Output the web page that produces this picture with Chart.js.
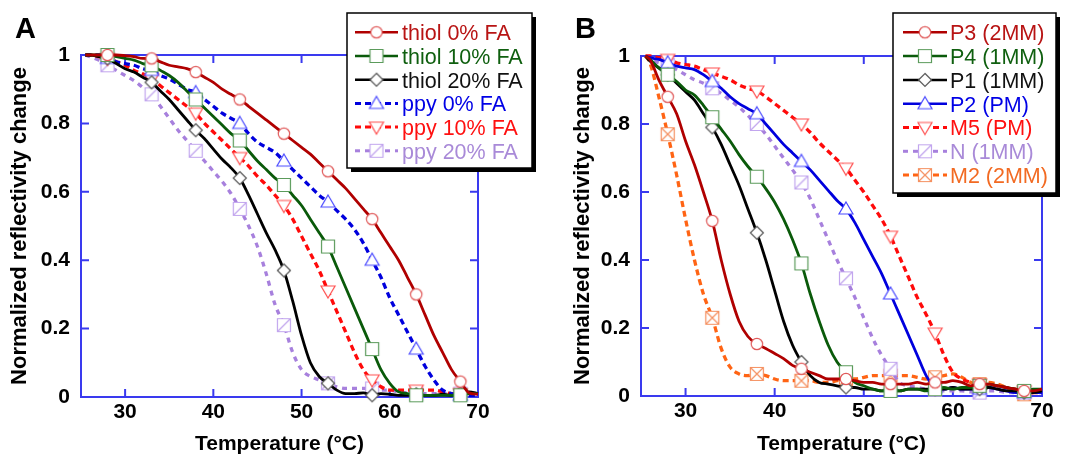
<!DOCTYPE html>
<html>
<head>
<meta charset="utf-8">
<script src="https://cdn.jsdelivr.net/npm/chart.js@4.4.0/dist/chart.umd.min.js"></script>
<style>
  body { margin: 0; background: #fff; }
  #wrap { position: relative; width: 1066px; height: 457px; }
  #chartA { position: absolute; left: 0; top: 0; }
  #chartB { position: absolute; left: 540px; top: 0; }
</style>
</head>
<body>
<div id="wrap">
  <canvas id="chartA" width="540" height="457"></canvas>
  <canvas id="chartB" width="526" height="457"></canvas>
</div>
<script>
// temperature samples (°C), markers every 5 degrees
const temps = [25.5, 26, 27, 28, 29, 30, 31, 32, 33, 34, 35, 36, 37, 38, 39, 40, 41, 42, 43, 44, 45, 46, 47,
  48, 49, 50, 51, 52, 53, 54, 55, 56, 57, 58, 59, 60, 61, 62, 63, 64, 65, 66, 67, 68, 69, 70];
const markerTemps = [28, 33, 38, 43, 48, 53, 58, 63, 68];

const xTicks = [30, 40, 50, 60, 70];
const yTicks = [0, 0.2, 0.4, 0.6, 0.8, 1];
const yTickLabels = ['0', '0.2', '0.4', '0.6', '0.8', '1'];

// panel A
const thiol0 = [1, 1, 1, 1, 1,  0.998, 0.995, 0.99, 0.99, 0.98,  0.97, 0.965, 0.96, 0.95, 0.935,
  0.92, 0.9, 0.885, 0.87, 0.85,  0.83, 0.81, 0.79, 0.77, 0.75,  0.73, 0.71, 0.685, 0.66, 0.635,
  0.61, 0.58, 0.55, 0.52, 0.48,  0.44, 0.4, 0.35, 0.3, 0.24,  0.18, 0.13, 0.08, 0.045, 0.012,  0.008];
const thiol10 = [1, 1, 1, 1, 0.995,  0.99, 0.985, 0.975, 0.97, 0.955,  0.94, 0.92, 0.895, 0.87, 0.845,
  0.82, 0.795, 0.77, 0.75, 0.72,  0.69, 0.665, 0.64, 0.62, 0.59,  0.56, 0.52, 0.48, 0.44, 0.38,
  0.32, 0.26, 0.2, 0.14, 0.08,  0.04, 0.015, 0.01, 0.005, 0.005,  0.005, 0.005, 0.005, 0.005, 0.01,  0.01];
const thiol20 = [1, 1, 0.995, 0.99, 0.975,  0.96, 0.95, 0.935, 0.92, 0.895,  0.87, 0.84, 0.81, 0.78, 0.755,
  0.725, 0.695, 0.67, 0.64, 0.59,  0.535, 0.48, 0.43, 0.37, 0.28,  0.18, 0.1, 0.06, 0.04, 0.02,
  0.01, 0.01, 0.012, 0.005, 0.01,  0.008, 0.005, 0.005, 0.008, 0.005,  0.005, 0.008, 0.005, 0.01, 0.015,  0.01];
const ppy0 = [1, 1, 1, 0.99, 0.98,  0.975, 0.97, 0.96, 0.955, 0.94,  0.93, 0.915, 0.9, 0.89, 0.87,
  0.85, 0.83, 0.815, 0.8, 0.77,  0.745, 0.73, 0.715, 0.69, 0.665,  0.64, 0.615, 0.59, 0.57, 0.545,
  0.52, 0.49, 0.45, 0.4, 0.35,  0.29, 0.24, 0.19, 0.14, 0.09,  0.05, 0.02, 0.01, 0.005, 0.005,  0.005];
const ppy10 = [1, 1, 0.995, 0.99, 0.98,  0.97, 0.955, 0.945, 0.93, 0.91,  0.89, 0.87, 0.85, 0.83, 0.8,
  0.775, 0.75, 0.725, 0.7, 0.675,  0.645, 0.62, 0.59, 0.56, 0.52,  0.47, 0.42, 0.37, 0.31, 0.25,
  0.19, 0.13, 0.08, 0.05, 0.03,  0.02, 0.02, 0.02, 0.02, 0.02,  0.02, 0.015, 0.01, 0.01, 0.01,  0.01];
const ppy20 = [1, 0.995, 0.985, 0.97, 0.955,  0.94, 0.925, 0.905, 0.885, 0.85,  0.815, 0.78, 0.75, 0.72, 0.69,
  0.66, 0.63, 0.595, 0.55, 0.5,  0.44, 0.36, 0.27, 0.21, 0.13,  0.08, 0.06, 0.05, 0.04, 0.03,
  0.025, 0.025, 0.025, 0.025, 0.02,  0.02, 0.015, 0.012, 0.01, 0.01,  0.01, 0.01, 0.01, 0.01, 0.012,  0.01];

// panel B
const p3 = [1, 0.99, 0.93, 0.88, 0.83,  0.75, 0.68, 0.6, 0.515, 0.4,  0.3, 0.22, 0.175, 0.153, 0.14,
  0.125, 0.11, 0.09, 0.08, 0.07,  0.06, 0.05, 0.05, 0.05, 0.045,  0.04, 0.04, 0.035, 0.035, 0.035,
  0.035, 0.04, 0.035, 0.04, 0.04,  0.045, 0.04, 0.03, 0.035, 0.035,  0.03, 0.025, 0.02, 0.015, 0.015,  0.02];
const p4 = [1, 0.99, 0.965, 0.945, 0.925,  0.9, 0.885, 0.855, 0.82, 0.785,  0.75, 0.71, 0.675, 0.645, 0.61,
  0.57, 0.52, 0.46, 0.39, 0.3,  0.22, 0.15, 0.1, 0.07, 0.04,  0.03, 0.02, 0.015, 0.015, 0.015,
  0.02, 0.02, 0.015, 0.02, 0.025,  0.02, 0.025, 0.025, 0.03, 0.035,  0.03, 0.025, 0.02, 0.015, 0.02,  0.02];
const p1 = [1, 0.985, 0.965, 0.945, 0.92,  0.895, 0.87, 0.83, 0.79, 0.74,  0.68, 0.62, 0.55, 0.48, 0.4,
  0.31, 0.22, 0.15, 0.1, 0.06,  0.04, 0.035, 0.03, 0.025, 0.025,  0.02, 0.02, 0.015, 0.02, 0.015,
  0.02, 0.02, 0.02, 0.02, 0.02,  0.025, 0.02, 0.02, 0.02, 0.025,  0.02, 0.015, 0.015, 0.01, 0.01,  0.015];
const p2 = [1, 0.995, 0.99, 0.98, 0.97,  0.965, 0.96, 0.945, 0.925, 0.905,  0.88, 0.86, 0.845, 0.83, 0.8,
  0.77, 0.74, 0.715, 0.69, 0.665,  0.635, 0.605, 0.575, 0.55, 0.51,  0.46, 0.41, 0.36, 0.3, 0.24,
  0.18, 0.12, 0.06, 0.025, 0.02,  0.025, 0.02, 0.02, 0.02, 0.025,  0.02, 0.015, 0.01, 0.01, 0.01,  0.01];
const m5 = [1, 1, 0.995, 0.99, 0.98,  0.975, 0.97, 0.96, 0.95, 0.94,  0.93, 0.915, 0.905, 0.897, 0.88,
  0.86, 0.84, 0.82, 0.8, 0.775,  0.745, 0.72, 0.695, 0.67, 0.635,  0.6, 0.56, 0.52, 0.47, 0.41,
  0.35, 0.29, 0.24, 0.185, 0.12,  0.07, 0.05, 0.04, 0.035, 0.03,  0.03, 0.025, 0.02, 0.015, 0.01,  0.01];
const nn = [1, 0.99, 0.98, 0.975, 0.96,  0.945, 0.93, 0.92, 0.905, 0.89,  0.87, 0.85, 0.825, 0.8, 0.77,
  0.735, 0.7, 0.665, 0.628, 0.58,  0.52, 0.46, 0.4, 0.346, 0.29,  0.23, 0.17, 0.12, 0.08, 0.04,
  0.03, 0.025, 0.02, 0.018, 0.015,  0.015, 0.015, 0.012, 0.01, 0.015,  0.015, 0.01, 0.01, 0.01, 0.01,  0.01];
const m2 = [1, 0.98, 0.88, 0.77, 0.65,  0.52, 0.4, 0.3, 0.23, 0.14,  0.085, 0.065, 0.06, 0.065, 0.06,
  0.05, 0.045, 0.045, 0.045, 0.045,  0.04, 0.04, 0.045, 0.05, 0.05,  0.055, 0.06, 0.06, 0.06, 0.06,
  0.06, 0.055, 0.05, 0.055, 0.06,  0.065, 0.055, 0.04, 0.035, 0.04,  0.035, 0.025, 0.015, 0.005, 0.01,  0.02];

const FONT = 'Arial, "Liberation Sans", Helvetica, sans-serif';
const frameColor = '#3a3aef';

// small canvases used as point markers
function marker(kind, color) {
  const c = document.createElement('canvas');
  c.width = 18; c.height = 18;
  const g = c.getContext('2d');
  g.translate(9, 9);
  g.lineWidth = 1.2;
  g.strokeStyle = color;
  g.fillStyle = '#fff';
  g.beginPath();
  if (kind === 'circle') g.arc(0, 0, 5.7, 0, Math.PI * 2);
  else if (kind === 'diamond') { g.moveTo(0, -6.5); g.lineTo(6.5, 0); g.lineTo(0, 6.5); g.lineTo(-6.5, 0); g.closePath(); }
  else if (kind === 'triUp') { g.moveTo(0, -7); g.lineTo(7, 5); g.lineTo(-7, 5); g.closePath(); }
  else if (kind === 'triDown') { g.moveTo(0, 7); g.lineTo(7, -5); g.lineTo(-7, -5); g.closePath(); }
  else g.rect(-6.5, -6.5, 13, 13);
  g.fill();
  g.stroke();
  if (kind === 'slash' || kind === 'cross') {
    g.beginPath();
    g.moveTo(-6.5, 6.5); g.lineTo(6.5, -6.5);
    if (kind === 'cross') { g.moveTo(-6.5, -6.5); g.lineTo(6.5, 6.5); }
    g.stroke();
  }
  return c;
}

const seriesA = [
  { label: 'thiol 0% FA', data: thiol0, color: '#b00000', text: '#b81414', img: marker('circle', '#e05a5a'), dash: [] },
  { label: 'thiol 10% FA', data: thiol10, color: '#0a5a0a', text: '#0f5f0f', img: marker('square', '#5b9b5b'), dash: [] },
  { label: 'thiol 20% FA', data: thiol20, color: '#000000', text: '#111111', img: marker('diamond', '#555555'), dash: [] },
  { label: 'ppy 0% FA', data: ppy0, color: '#0000dd', text: '#0000e6', img: marker('triUp', '#4a4aff'), dash: [6, 4] },
  { label: 'ppy 10% FA', data: ppy10, color: '#ff0a0a', text: '#ff1010', img: marker('triDown', '#ff5050'), dash: [6, 4] },
  { label: 'ppy 20% FA', data: ppy20, color: '#a780dd', text: '#a98ad8', img: marker('slash', '#c2a6ee'), dash: [5, 5] }
];

const seriesB = [
  { label: 'P3 (2MM)', data: p3, color: '#b00000', text: '#b81414', img: marker('circle', '#e05a5a'), dash: [] },
  { label: 'P4 (1MM)', data: p4, color: '#0a5a0a', text: '#0f5f0f', img: marker('square', '#5b9b5b'), dash: [] },
  { label: 'P1 (1MM)', data: p1, color: '#000000', text: '#111111', img: marker('diamond', '#555555'), dash: [] },
  { label: 'P2 (PM)', data: p2, color: '#0000dd', text: '#0000e6', img: marker('triUp', '#4a4aff'), dash: [] },
  { label: 'M5 (PM)', data: m5, color: '#ff0a0a', text: '#ff1010', img: marker('triDown', '#ff5050'), dash: [6, 4] },
  { label: 'N (1MM)', data: nn, color: '#a780dd', text: '#a98ad8', img: marker('slash', '#c2a6ee'), dash: [5, 5] },
  { label: 'M2 (2MM)', data: m2, color: '#ff6414', text: '#f26a22', img: marker('cross', '#f59060'), dash: [6, 4] }
];

function makeDatasets(series) {
  return series.map(s => ({
    label: s.label,
    data: temps.map((t, i) => ({ x: t, y: s.data[i] })),
    borderColor: s.color,
    backgroundColor: '#fff',
    borderWidth: s.dash.length ? 3.3 : 2.8,
    borderDash: s.dash,
    pointStyle: s.img,
    pointRadius: ctx => markerTemps.includes(temps[ctx.dataIndex]) ? 6 : 0,
    cubicInterpolationMode: 'monotone',
    clip: false
  }));
}

// frame, inward ticks on all four sides, panel letter and boxed legend
function decorPlugin(cfg) {
  return {
    id: 'decor',
    beforeDatasetsDraw(chart) {
      const { ctx, chartArea: a, scales } = chart;
      ctx.save();
      ctx.strokeStyle = frameColor;
      ctx.lineWidth = 2;
      ctx.strokeRect(a.left, a.top, a.right - a.left, a.bottom - a.top);
      ctx.beginPath();
      xTicks.forEach(v => {
        const px = scales.x.getPixelForValue(v);
        ctx.moveTo(px, a.bottom); ctx.lineTo(px, a.bottom - 8);
        ctx.moveTo(px, a.top); ctx.lineTo(px, a.top + 8);
      });
      yTicks.forEach(v => {
        const py = scales.y.getPixelForValue(v);
        ctx.moveTo(a.left, py); ctx.lineTo(a.left + 8, py);
        ctx.moveTo(a.right, py); ctx.lineTo(a.right - 8, py);
      });
      ctx.stroke();
      ctx.restore();
    },
    afterDraw(chart) {
      const ctx = chart.ctx;
      const L = cfg.legend;
      ctx.save();
      ctx.fillStyle = '#000';
      ctx.font = 'bold 29px ' + FONT;
      ctx.textBaseline = 'alphabetic';
      ctx.fillText(cfg.letter, cfg.lx, cfg.ly);

      ctx.fillStyle = '#000';
      ctx.fillRect(L.x + 4, L.y + 4, L.w, L.h);
      ctx.fillStyle = '#fff';
      ctx.fillRect(L.x, L.y, L.w, L.h);
      ctx.lineWidth = 1.5;
      ctx.strokeStyle = '#000';
      ctx.strokeRect(L.x, L.y, L.w, L.h);

      ctx.font = '21.5px ' + FONT;
      cfg.series.forEach((s, i) => {
        const cy = L.row0 + i * L.step;
        ctx.beginPath();
        ctx.strokeStyle = s.color;
        ctx.lineWidth = s.dash.length ? 3 : 2.5;
        ctx.setLineDash(s.dash);
        ctx.moveTo(L.sx0, cy); ctx.lineTo(L.sx1, cy);
        ctx.stroke();
        ctx.setLineDash([]);
        const mx = (L.sx0 + L.sx1) / 2;
        ctx.drawImage(s.img, mx - 9, cy - 9);
        ctx.fillStyle = s.text;
        ctx.fillText(s.label, L.tx, cy + 7.8);
      });
      ctx.restore();
    }
  };
}

function makeChart(id, series, lay) {
  return new Chart(document.getElementById(id), {
    type: 'line',
    data: { datasets: makeDatasets(series) },
    options: {
      responsive: false,
      animation: false,
      events: [],
      layout: { padding: { left: 0, top: lay.top, right: lay.right, bottom: 0 } },
      plugins: { legend: { display: false }, tooltip: { enabled: false } },
      scales: {
        x: {
          type: 'linear', min: 25, max: 70,
          afterBuildTicks: axis => { axis.ticks = xTicks.map(v => ({ value: v })); },
          afterFit: axis => { axis.height = lay.xh; },
          grid: { display: false, drawTicks: false },
          border: { display: false },
          ticks: { padding: 3, color: '#000', font: { family: FONT, size: 21, weight: 'bold' } },
          title: { display: true, text: 'Temperature (°C)', color: '#000', padding: { top: 0, bottom: 0 },
            font: { family: FONT, size: 21, weight: 'bold' } }
        },
        y: {
          min: 0, max: 1,
          afterBuildTicks: axis => { axis.ticks = yTicks.map(v => ({ value: v })); },
          afterFit: axis => { axis.width = lay.yw; },
          grid: { display: false, drawTicks: false },
          border: { display: false },
          ticks: { padding: 11, color: '#000', font: { family: FONT, size: 21, weight: 'bold' },
            callback: (v, i) => yTickLabels[i] },
          title: { display: true, text: 'Normalized reflectivity change', color: '#000',
            padding: { top: lay.tpad, bottom: 0 }, font: { family: FONT, size: 22, weight: 'bold' } }
        }
      }
    },
    plugins: [decorPlugin(lay.decor)]
  });
}

makeChart('chartA', seriesA, {
  top: 55, right: 62, xh: 60, yw: 81, tpad: 7,
  decor: { letter: 'A', lx: 15, ly: 38, series: seriesA,
    legend: { x: 347, y: 13, w: 185, h: 155, row0: 32.3, step: 23.7, sx0: 355, sx1: 398, tx: 402 } }
});

makeChart('chartB', seriesB, {
  top: 56, right: 24, xh: 61, yw: 101, tpad: 30,
  decor: { letter: 'B', lx: 35, ly: 38, series: seriesB,
    legend: { x: 353, y: 13, w: 163, h: 180, row0: 32.3, step: 23.8, sx0: 363, sx1: 407, tx: 410 } }
});
</script>
</body>
</html>
